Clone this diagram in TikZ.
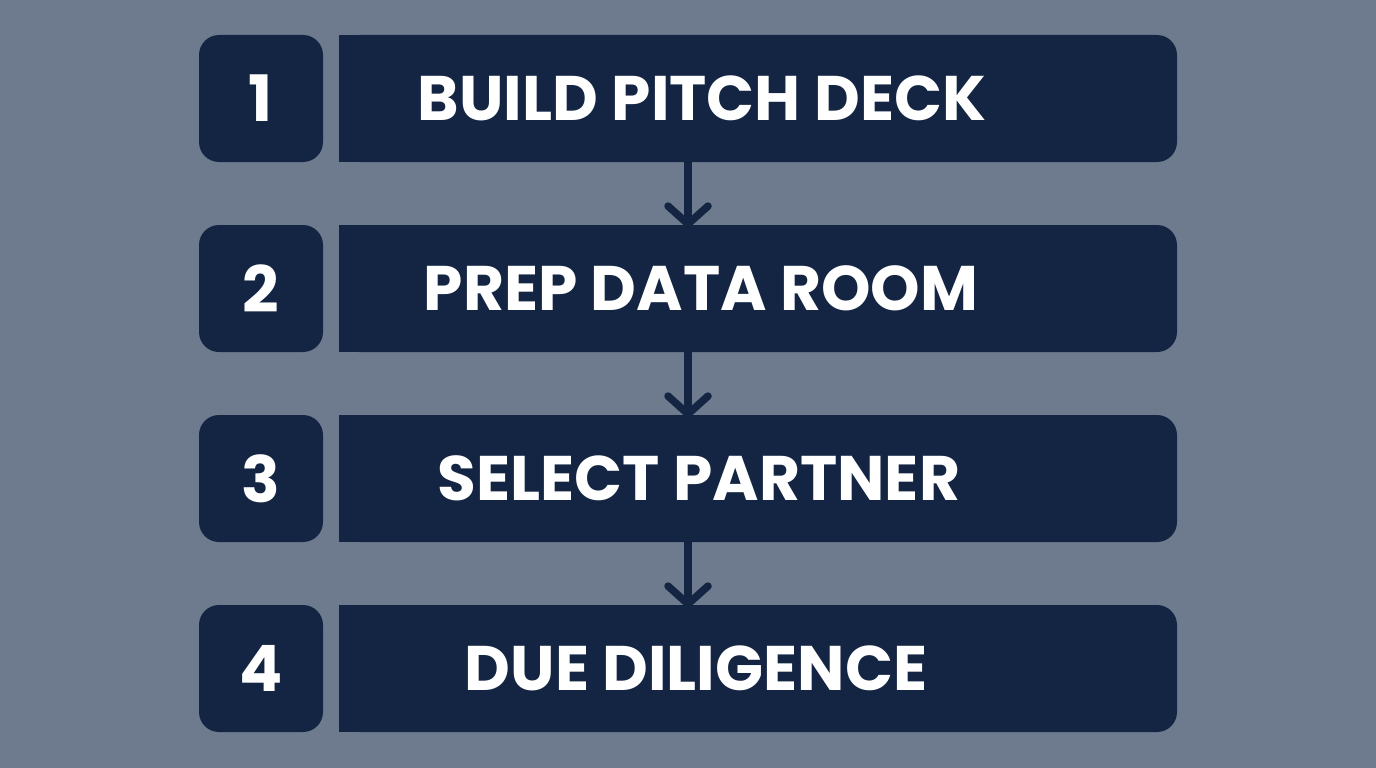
\documentclass[tikz,border=0pt]{standalone}
\usepackage{fontspec}
\setmainfont{Poppins}[BoldFont={* Bold}]
\usetikzlibrary{arrows.meta}
\definecolor{bgc}{HTML}{6E7B8E}
\definecolor{navy}{HTML}{132542}
\tikzset{
  numbox/.style={fill=navy, rounded corners=20pt, minimum width=124pt, minimum height=127pt, inner sep=0pt, text=white, font=\bfseries\fontsize{64}{64}\selectfont},
  barbox/.style={fill=navy, rounded corners=20pt, minimum width=838pt, minimum height=127pt, inner sep=0pt},
  bartext/.style={text=white, font=\bfseries\fontsize{63}{63}\selectfont, inner sep=0pt},
  flow/.style={draw=navy, line width=7.5pt, -{Straight Barb[length=18pt,width=40pt,line cap=round,line join=round]}}
}
\begin{document}
\begin{tikzpicture}[x=1pt,y=-1pt]
\fill[bgc] (0,0) rectangle (1376,768);
\useasboundingbox (0,0) rectangle (1376,768);
\coordinate (ax) at (688,0);
\foreach \i/\y/\x/\t in {1/98.5/702/BUILD PITCH DECK,2/288.5/701/PREP DATA ROOM,3/478.5/699/SELECT PARTNER,4/668.5/696/DUE DILIGENCE}{
  \node[numbox] (n\i) at (261,\y) {\i};
  \node[barbox] (b\i) at (758,\y) {};
  \fill[navy] (b\i.south west) rectangle ([xshift=40pt]b\i.north west);
  \node[bartext] (t\i) at (\x,\y) {\t};
}
\draw[flow] (b1.south -| ax) -- ([yshift=-3pt]b2.north -| ax);
\draw[flow] (b2.south -| ax) -- ([yshift=-3pt]b3.north -| ax);
\draw[flow] (b3.south -| ax) -- ([yshift=-3pt]b4.north -| ax);
\end{tikzpicture}
\end{document}
